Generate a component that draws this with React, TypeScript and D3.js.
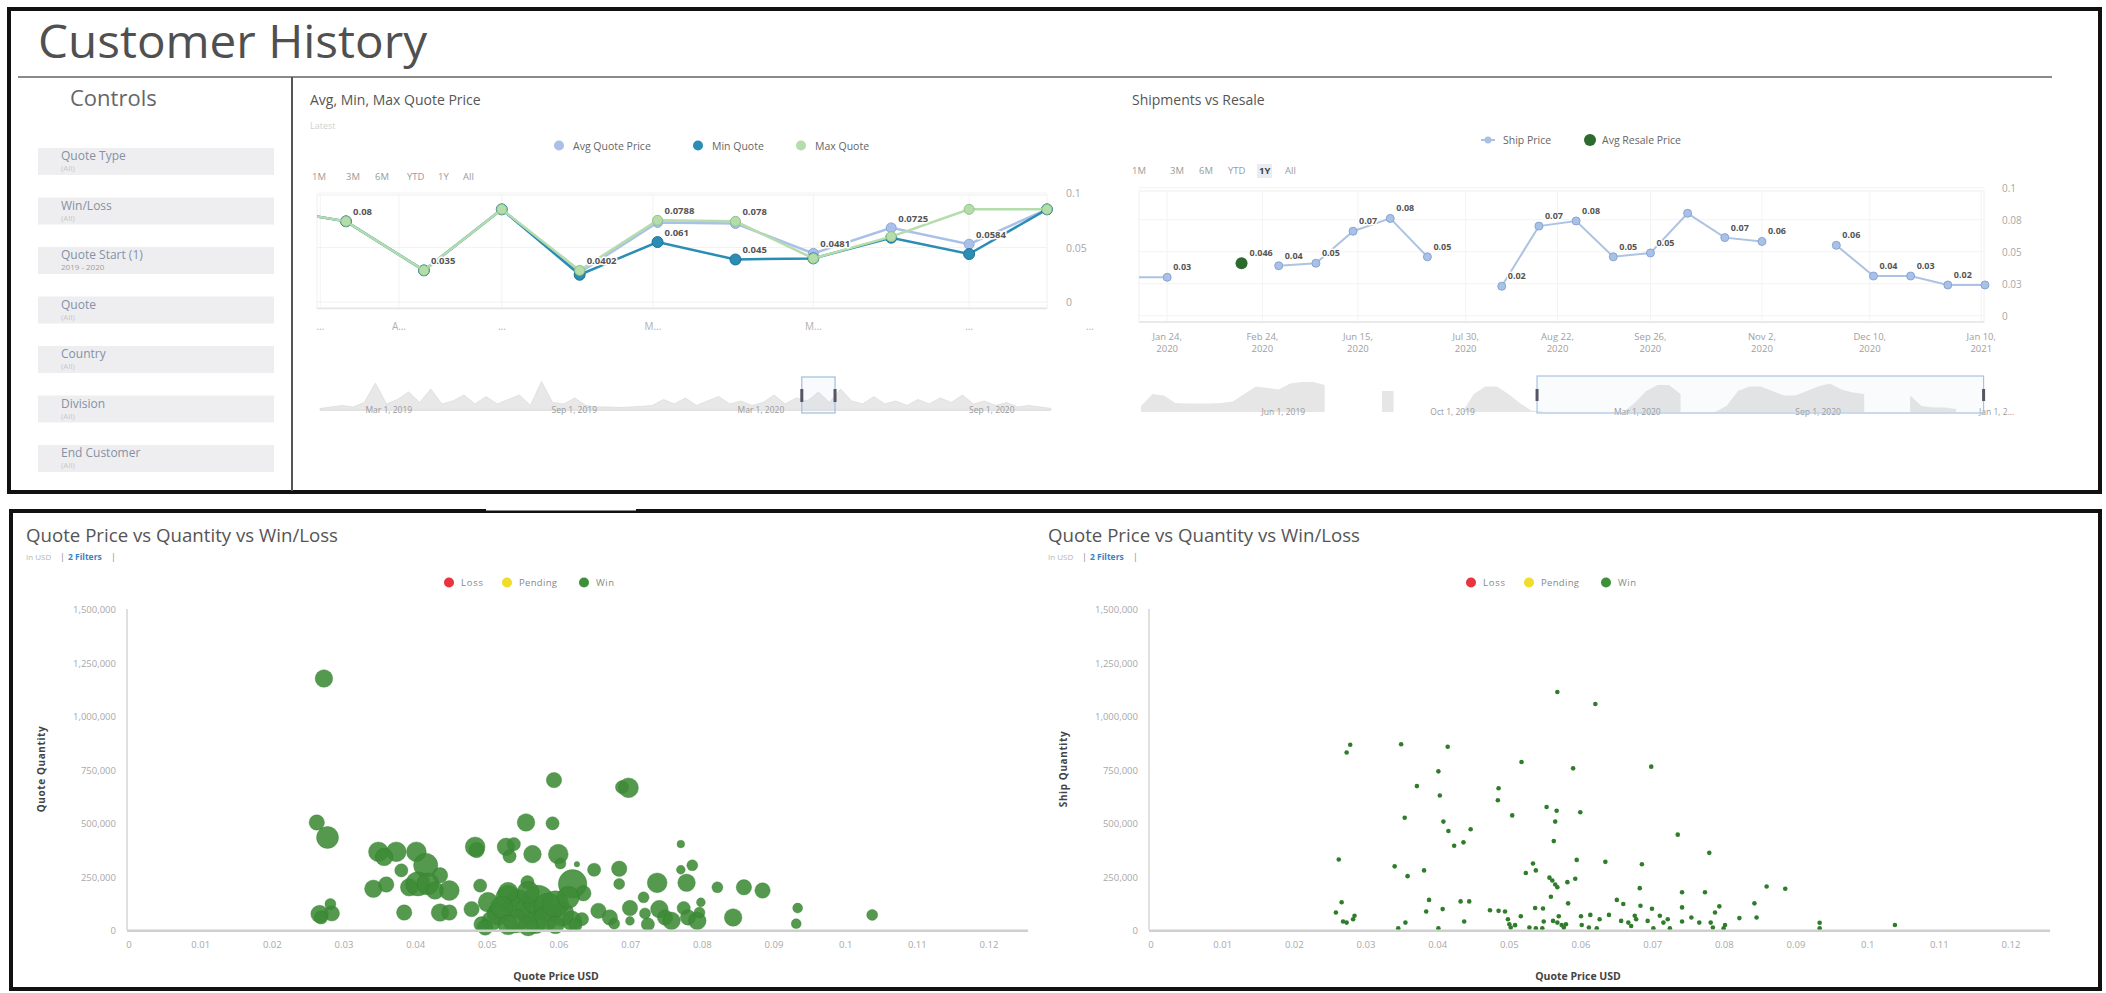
import React, { useEffect } from 'react';
import * as d3 from 'd3';

const W = 2106;
const H = 993;
const FONT = '"Open Sans", "DejaVu Sans", sans-serif';

// ---- controls panel
const controlLabels = ['Quote Type', 'Win/Loss', 'Quote Start (1)', 'Quote', 'Country', 'Division', 'End Customer'];
const controlValues = ['(All)', '(All)', '2019 - 2020', '(All)', '(All)', '(All)', '(All)'];

// ---- Avg, Min, Max Quote Price (slot -1 is the clipped point left of the view)
const quoteSlots = [-1, 0, 1, 2, 3, 4, 5, 6, 7, 8, 9];
const avgQuote = [0.086, 0.074, 0.029, 0.085, 0.027, 0.073, 0.072, 0.0446, 0.068, 0.053, 0.085];
const minQuote = [0.086, 0.074, 0.029, 0.085, 0.025, 0.055, 0.039, 0.04, 0.059, 0.044, 0.085];
const maxQuote = [0.086, 0.074, 0.029, 0.085, 0.029, 0.075, 0.074, 0.04, 0.06, 0.085, 0.085];
const avgLabels = ['', '', '', '', '', '', '', '0.0481', '0.0725', '0.0584', ''];
const minLabels = ['', '', '', '', '', '0.061', '0.045', '', '', '', ''];
const maxLabels = ['', '0.08', '0.035', '', '0.0402', '0.0788', '0.078', '', '', '', ''];
const quoteTickSlots = [-0.33, 0.68, 2, 3.94, 6, 8, 9.55];
const quoteTickLabels = ['…', 'A…', '…', 'M…', 'M…', '…', '…'];
const quoteYTicks = [0, 0.05, 0.1];
const quoteYLabels = ['0', '0.05', '0.1'];
const quoteLegend = ['Avg Quote Price', 'Min Quote', 'Max Quote'];
const quoteNav = [
  0.05, 0.1, 0.15, 0.1, 0.25, 0.9, 0.2, 0.35, 0.6, 0.25,
  0.7, 0.2, 0.3, 0.5, 0.2, 0.45, 0.2, 0.35, 0.5, 0.15,
  0.95, 0.25, 0.2, 0.4, 0.15, 0.1, 0.1, 0.08, 0.1, 0.12,
  0.15, 0.35, 0.2, 0.4, 0.15, 0.3, 0.45, 0.2, 0.3, 0.15,
  0.25, 0.5, 0.2, 0.4, 0.3, 0.6, 0.25, 0.7, 0.3, 0.2,
  0.45, 0.2, 0.3, 0.15, 0.35, 0.2, 0.4, 0.25, 0.5, 0.2,
  0.3, 0.15, 0.25, 0.1, 0.15, 0.1, 0.05
];
const quoteNavLabels = ['Mar 1, 2019', 'Sep 1, 2019', 'Mar 1, 2020', 'Sep 1, 2020'];
const quoteNavLabelIdx = [4.1, 20.9, 37.7, 58.6];
const quoteNavSel = [43.5, 46.5];

// ---- Shipments vs Resale (slot -1 clipped)
const shipSlots = [-1, 0, 1, 2, 3, 4, 5, 6, 7, 8, 9, 10, 11, 12, 13, 14, 15, 16, 17, 18, 19, 20, 21, 22];
const shipPrice: (number | null)[] = [0.03, 0.03, null, null, 0.039, 0.041, 0.066, 0.076, 0.046, null, 0.023, 0.07, 0.074, 0.046, 0.049, 0.08, 0.061, 0.058, null, 0.055, 0.031, 0.031, 0.024, 0.024];
const shipLabels = ['', '0.03', '', '', '0.04', '0.05', '0.07', '0.08', '0.05', '', '0.02', '0.07', '0.08', '0.05', '0.05', '', '0.07', '0.06', '', '0.06', '0.04', '0.03', '0.02', ''];
const resaleSlot = [2];
const resalePrice = [0.041];
const resaleLabels = ['0.046'];
const shipTickSlots = [0, 2.56, 5.13, 8.03, 10.5, 13, 16, 18.9, 21.9];
const shipTickDates = ['Jan 24,', 'Feb 24,', 'Jun 15,', 'Jul 30,', 'Aug 22,', 'Sep 26,', 'Nov 2,', 'Dec 10,', 'Jan 10,'];
const shipTickYears = ['2020', '2020', '2020', '2020', '2020', '2020', '2020', '2020', '2021'];
const shipYTicks = [0, 0.025, 0.05, 0.075, 0.1];
const shipYLabels = ['0', '0.03', '0.05', '0.08', '0.1'];
const shipLegend = ['Ship Price', 'Avg Resale Price'];
const shipNav: (number | null)[] = [
  0.2, 0.6, 0.55, 0.3, 0.28, 0.28, 0.28, 0.3, 0.35, 0.6,
  0.85, 0.8, 0.75, 0.95, 1.0, 1.0, 0.9, null, null, null,
  null, 0.7, 0.7, null, null, null, null, null, 0, 0.6,
  0.85, 0.85, 0.6, 0.3, 0.05, 0.02, null, null, null, null,
  null, null, 0, 0.3, 0.7, 0.9, 0.9, 0.6, null, null,
  0, 0.2, 0.7, 0.85, 0.85, 0.7, 0.55, 0.55, 0.7, 0.85,
  0.95, 0.75, 0.65, 0.6, null, null, null, 0.55, 0.2, 0.15,
  0.15, 0.1
];
const shipNavLabels = ['Jun 1, 2019', 'Oct 1, 2019', 'Mar 1, 2020', 'Sep 1, 2020', 'Jan 1, 2…'];
const shipNavLabelIdx = [10.5, 25.2, 41.2, 57.0, 73.0];
const shipNavSel = [34.5, 73.4];

const rangeButtons = ['1M', '3M', '6M', 'YTD', '1Y', 'All'];

// ---- scatter charts
const winLegend = ['Loss', 'Pending', 'Win'];
const winColors = ['#e8343f', '#f2dc2a', '#3f8f3a'];
const priceTicks = [0, 0.01, 0.02, 0.03, 0.04, 0.05, 0.06, 0.07, 0.08, 0.09, 0.1, 0.11, 0.12];
const qtyTicks = [0, 250000, 500000, 750000, 1000000, 1250000, 1500000];

// [quote price, quote quantity, bubble size]
const quoteBubbles: [number, number, number][] = [
  [0.0272, 1177000, 256], [0.0262, 504000, 196], [0.0277, 434000, 400], [0.0593, 702000, 196],
  [0.0688, 669000, 144], [0.0697, 666000, 324], [0.0554, 504000, 256], [0.0591, 500000, 144],
  [0.0348, 367000, 324], [0.0373, 367000, 324], [0.0356, 343000, 256], [0.0401, 367000, 324],
  [0.0414, 304000, 484], [0.038, 280000, 144], [0.0434, 257000, 196], [0.0483, 390000, 324],
  [0.0485, 375000, 196], [0.0526, 390000, 256], [0.0537, 403000, 144], [0.0531, 346000, 144],
  [0.0563, 356000, 256], [0.0599, 356000, 324], [0.0602, 312000, 100], [0.0625, 309000, 25],
  [0.0649, 283000, 144], [0.0684, 288000, 196], [0.0684, 217000, 100], [0.077, 403000, 49],
  [0.0786, 304000, 100], [0.077, 283000, 64], [0.0737, 222000, 324], [0.0778, 222000, 256],
  [0.0821, 201000, 100], [0.0858, 201000, 196], [0.0884, 186000, 196], [0.0933, 104000, 81],
  [0.0931, 31000, 81], [0.1037, 72000, 100], [0.0341, 194000, 256], [0.0359, 214000, 196],
  [0.0391, 201000, 256], [0.0403, 217000, 484], [0.0417, 217000, 400], [0.0427, 186000, 256],
  [0.0447, 186000, 324], [0.0384, 83000, 196], [0.0434, 83000, 256], [0.0447, 83000, 196],
  [0.0478, 99000, 196], [0.0266, 76000, 256], [0.0283, 79000, 196], [0.0281, 123000, 100],
  [0.0268, 60000, 144], [0.049, 209000, 144], [0.0556, 225000, 144], [0.0619, 217000, 676],
  [0.0634, 173000, 196],
  [0.0501, 131000, 324], [0.0515, 76000, 400], [0.0529, 154000, 484], [0.0543, 123000, 676],
  [0.0557, 91000, 576], [0.0571, 139000, 784], [0.0585, 107000, 676], [0.0604, 76000, 484],
  [0.0618, 44000, 324], [0.0539, 44000, 484], [0.0506, 44000, 324], [0.0567, 36000, 400],
  [0.0581, 52000, 484], [0.0595, 123000, 576], [0.0613, 154000, 400], [0.0492, 28000, 196],
  [0.0529, 178000, 324], [0.0557, 178000, 400], [0.052, 107000, 400], [0.0632, 52000, 144],
  [0.0497, 13000, 196], [0.0557, 20000, 324], [0.0595, 25000, 256], [0.0623, 25000, 144],
  [0.0529, 25000, 324],
  [0.0655, 91000, 196], [0.0671, 60000, 196], [0.0677, 31000, 100], [0.0699, 104000, 196],
  [0.0699, 44000, 64], [0.0718, 154000, 100], [0.0724, 28000, 144], [0.074, 99000, 256],
  [0.0748, 60000, 196], [0.0757, 44000, 256], [0.0774, 104000, 144], [0.078, 60000, 196],
  [0.0793, 44000, 256], [0.0798, 131000, 64], [0.0796, 83000, 100], [0.0843, 60000, 256],
  [0.072, 79000, 100]
];

// [quote price, ship quantity]
const shipPoints: [number, number][] = [
  [0.0278, 867000], [0.0273, 831000], [0.0349, 870000], [0.0414, 858000], [0.0567, 1114000],
  [0.062, 1058000], [0.0517, 787000], [0.0589, 757000], [0.0698, 765000], [0.0401, 743000],
  [0.0371, 674000], [0.0485, 664000], [0.0403, 630000], [0.0484, 608000], [0.0504, 537000],
  [0.0354, 526000], [0.0552, 576000], [0.0566, 559000], [0.0599, 552000], [0.0564, 508000],
  [0.0408, 508000], [0.0415, 464000], [0.0446, 472000], [0.0735, 447000], [0.0436, 411000],
  [0.0423, 395000], [0.0562, 417000], [0.0779, 362000], [0.0262, 331000], [0.034, 299000],
  [0.0381, 280000], [0.0358, 253000], [0.0594, 329000], [0.0634, 320000], [0.0685, 309000],
  [0.0533, 312000], [0.0537, 280000], [0.0523, 268000], [0.0556, 246000], [0.056, 233000],
  [0.0564, 214000], [0.0567, 201000], [0.0581, 225000], [0.0592, 241000], [0.0682, 197000],
  [0.0741, 178000], [0.0773, 178000], [0.0859, 205000], [0.0885, 194000], [0.0388, 142000],
  [0.0432, 135000], [0.0444, 135000], [0.0558, 157000], [0.0582, 126000], [0.065, 142000],
  [0.0659, 123000], [0.0266, 131000], [0.0384, 88000], [0.0407, 99000], [0.0473, 94000],
  [0.0485, 91000], [0.0494, 88000], [0.0536, 104000], [0.0547, 102000], [0.0683, 115000],
  [0.0699, 101000], [0.0741, 107000], [0.0793, 112000], [0.0787, 83000], [0.0842, 126000],
  [0.0845, 60000], [0.0821, 57000], [0.0258, 83000], [0.0268, 41000], [0.0273, 36000],
  [0.0282, 52000], [0.0284, 68000], [0.0355, 36000], [0.0345, 9000], [0.0401, 9000],
  [0.0437, 41000], [0.0498, 52000], [0.05, 28000], [0.0502, 13000], [0.0516, 66000],
  [0.0528, 13000], [0.0537, 9000], [0.0548, 41000], [0.0546, 9000], [0.0567, 36000],
  [0.0573, 25000], [0.0576, 13000], [0.0579, 28000], [0.06, 66000], [0.0601, 25000],
  [0.0611, 13000], [0.0622, 9000], [0.0626, 52000], [0.0639, 72000], [0.0656, 44000],
  [0.067, 20000], [0.0675, 68000], [0.0693, 44000], [0.0701, 9000], [0.071, 68000],
  [0.0715, 36000], [0.0721, 52000], [0.0724, 9000], [0.0741, 41000], [0.0754, 60000],
  [0.0765, 36000], [0.0781, 36000], [0.0784, 13000], [0.0801, 25000], [0.0799, 9000],
  [0.0933, 35000], [0.0933, 9000], [0.1038, 25000], [0.0677, 52000], [0.0666, 36000],
  [0.0569, 66000], [0.0561, 44000], [0.0508, 24000], [0.0613, 72000]
];

const halo = { paintOrder: 'stroke' as const, stroke: '#fff', strokeWidth: 3, strokeLinejoin: 'round' as const };

function Controls() {
  return (
    <g>
      <text x={70} y={106} fontSize={22} fill="#666" fontFamily={FONT}>Controls</text>
      {controlLabels.map((lab, i) => {
        const top = 148 + i * 49.5;
        return (
          <g key={lab}>
            <rect x={38} y={top} width={236} height={27} fill="#eeeef0" />
            <text x={61} y={top + 12} fontSize={12} fill="#8491a6" fontFamily={FONT}>{lab}</text>
            <text x={61} y={top + 23} fontSize={8} fill={i === 2 ? '#a0a0a0' : '#c8c8c8'} fontFamily={FONT}>{controlValues[i]}</text>
          </g>
        );
      })}
    </g>
  );
}

function RangeButtons({ x, y, gaps, selected }: { x: number; y: number; gaps: number[]; selected: number }) {
  let cx = x;
  return (
    <g fontFamily={FONT} fontSize={9.5} fill="#9a9a9a">
      {rangeButtons.map((b, i) => {
        const px = cx;
        cx += gaps[i];
        return (
          <g key={b}>
            {i === selected && <rect x={px - 2} y={y - 10} width={15} height={14} fill="#e8ecf4" />}
            <text x={px} y={y} fontWeight={i === selected ? 700 : 400} fill={i === selected ? '#444' : '#9a9a9a'}>{b}</text>
          </g>
        );
      })}
    </g>
  );
}

function QuoteChart() {
  const x = d3.scaleLinear().domain([0, 9]).range([346, 1047]);
  const y = d3.scaleLinear().domain([0, 0.1]).range([302, 193]);
  const line = d3.line<number>().x((_, i) => x(quoteSlots[i])).y(d => y(d));
  const series = [
    { vals: avgQuote, labels: avgLabels, color: '#aac0e8', stroke: '#8fa9d8' },
    { vals: minQuote, labels: minLabels, color: '#2b8db3', stroke: '#1d7498' },
    { vals: maxQuote, labels: maxLabels, color: '#b5dcab', stroke: '#8fc584' }
  ];
  const legendX = [559, 698, 801];
  const navX = d3.scaleLinear().domain([0, quoteNav.length - 1]).range([320, 1051]);
  const navY = d3.scaleLinear().domain([0, 1]).range([410, 380]);
  const navArea = d3.area<number>().x((_, i) => navX(i)).y0(410).y1(d => navY(d));
  return (
    <g fontFamily={FONT}>
      <text x={310} y={105} fontSize={14} fill="#555">Avg, Min, Max Quote Price</text>
      <text x={310} y={129} fontSize={9} fill="#d0d0d0">Latest</text>
      {quoteLegend.map((l, i) => (
        <g key={l}>
          <circle cx={legendX[i]} cy={145.5} r={5} fill={series[i].color} />
          <text x={legendX[i] + 14} y={149.5} fontSize={10.5} fill="#666">{l}</text>
        </g>
      ))}
      <RangeButtons x={312} y={180} gaps={[34, 29, 32, 31, 25, 20]} selected={-1} />
      <defs>
        <clipPath id="clipQuote"><rect x={317} y={185} width={736} height={130} /></clipPath>
      </defs>
      <rect x={317} y={195} width={730} height={113} fill="none" stroke="#f0f0f0" />
      {quoteYTicks.map(t => (
        <line key={t} x1={317} x2={1047} y1={y(t)} y2={y(t)} stroke="#f2f2f2" />
      ))}
      {quoteTickSlots.map((s, i) => (
        x(s) > 317 && x(s) < 1047 ? <line key={i} x1={x(s)} x2={x(s)} y1={195} y2={308} stroke="#f2f2f2" /> : null
      ))}
      <line x1={317} x2={1047} y1={308.5} y2={308.5} stroke="#e4e4e4" strokeWidth={1.5} />
      {quoteYTicks.map((t, i) => (
        <text key={t} x={1066} y={y(t) + 4} fontSize={10.5} fill="#a8a8a8">{quoteYLabels[i]}</text>
      ))}
      {quoteTickSlots.map((s, i) => (
        <text key={i} x={x(s)} y={330} fontSize={10} fill="#b0b0b0" textAnchor="middle">{quoteTickLabels[i]}</text>
      ))}
      <g clipPath="url(#clipQuote)">
        {series.map((s, k) => (
          <g key={k}>
            <path d={line(s.vals) || ''} fill="none" stroke={s.color} strokeWidth={2.5} />
            {s.vals.map((v, i) => (
              <circle key={i} cx={x(quoteSlots[i])} cy={y(v)} r={k === 1 ? 5.5 : 5} fill={s.color} stroke={s.stroke} strokeWidth={1} />
            ))}
          </g>
        ))}
      </g>
      {series.map((s, k) => s.labels.map((lab, i) => lab ? (
        <text key={`${k}-${i}`} x={x(quoteSlots[i]) + 7} y={y(s.vals[i]) - 6} fontSize={9.5} fontWeight={700} fill="#555" style={halo}>{lab}</text>
      ) : null))}
      {/* navigator */}
      <path d={navArea(quoteNav) || ''} fill="#e8e8e8" stroke="#dcdcdc" strokeWidth={0.8} />
      <line x1={320} x2={1051} y1={410.5} y2={410.5} stroke="#e2e2e2" />
      {quoteNavLabels.map((l, i) => (
        <text key={l} x={navX(quoteNavLabelIdx[i])} y={413} fontSize={8.5} fill="#9a9a9a">{l}</text>
      ))}
      <rect x={navX(quoteNavSel[0])} y={377} width={navX(quoteNavSel[1]) - navX(quoteNavSel[0])} height={36} fill="rgba(160,190,225,0.08)" stroke="#9cc0e0" strokeWidth={1.2} />
      {quoteNavSel.map((s, i) => (
        <rect key={i} x={navX(s) - 1.5} y={389} width={3} height={13} fill="#556" />
      ))}
    </g>
  );
}

function ShipChart() {
  const x = d3.scaleLinear().domain([0, 22]).range([1167.2, 1985]);
  const y = d3.scaleLinear().domain([0, 0.1]).range([315.7, 187.7]);
  const line = d3.line<number | null>().defined(d => d != null).x((_, i) => x(shipSlots[i])).y(d => y(d as number));
  const navX = d3.scaleLinear().domain([0, 73]).range([1141, 1979]);
  const navY = d3.scaleLinear().domain([0, 1]).range([412, 382]);
  const navArea = d3.area<number | null>().defined(d => d != null).x((_, i) => navX(i)).y0(412).y1(d => navY(d as number));
  const legendX = [1488, 1590];
  return (
    <g fontFamily={FONT}>
      <text x={1132} y={105} fontSize={14} fill="#555">Shipments vs Resale</text>
      <g>
        <line x1={1481} x2={1495} y1={140} y2={140} stroke="#adc3e3" strokeWidth={2} />
        <circle cx={legendX[0]} cy={140} r={3.5} fill="#aac0e6" />
        <text x={1503} y={144} fontSize={10.5} fill="#666">{shipLegend[0]}</text>
        <circle cx={legendX[1]} cy={140} r={6} fill="#2d6a2d" />
        <text x={1602} y={144} fontSize={10.5} fill="#666">{shipLegend[1]}</text>
      </g>
      <RangeButtons x={1132} y={174} gaps={[38, 29, 29, 31, 26, 20]} selected={4} />
      <defs>
        <clipPath id="clipShip"><rect x={1139} y={180} width={852} height={145} /></clipPath>
      </defs>
      <rect x={1139} y={191} width={845} height={131} fill="none" stroke="#f0f0f0" />
      {shipYTicks.map(t => (
        <line key={t} x1={1139} x2={1984} y1={y(t)} y2={y(t)} stroke="#f3f3f3" />
      ))}
      {shipTickSlots.map((s, i) => (
        <line key={i} x1={x(s)} x2={x(s)} y1={191} y2={322} stroke="#f3f3f3" />
      ))}
      <line x1={1139} x2={1984} y1={322} y2={322} stroke="#e6e6e6" strokeWidth={1.5} />
      {shipYTicks.map((t, i) => (
        <text key={t} x={2002} y={y(t) + 4} fontSize={10} fill="#a8a8a8">{shipYLabels[i]}</text>
      ))}
      {shipTickSlots.map((s, i) => (
        <g key={i}>
          <text x={x(s)} y={340} fontSize={9.5} fill="#a0a0a0" textAnchor="middle">{shipTickDates[i]}</text>
          <text x={x(s)} y={352} fontSize={9.5} fill="#a0a0a0" textAnchor="middle">{shipTickYears[i]}</text>
        </g>
      ))}
      <g clipPath="url(#clipShip)">
        <path d={line(shipPrice) || ''} fill="none" stroke="#adc3e3" strokeWidth={2} />
        {shipPrice.map((v, i) => v == null ? null : (
          <circle key={i} cx={x(shipSlots[i])} cy={y(v)} r={4} fill="#a9c1e6" stroke="#86a5d3" strokeWidth={1} />
        ))}
        {resalePrice.map((v, i) => (
          <circle key={i} cx={x(resaleSlot[i])} cy={y(v)} r={6} fill="#2d6a2d" />
        ))}
      </g>
      {shipLabels.map((lab, i) => lab && shipPrice[i] != null ? (
        <text key={i} x={x(shipSlots[i]) + 6} y={y(shipPrice[i] as number) - 7} fontSize={9} fontWeight={700} fill="#555" style={halo}>{lab}</text>
      ) : null)}
      {resaleLabels.map((lab, i) => (
        <text key={i} x={x(resaleSlot[i]) + 8} y={y(resalePrice[i]) - 7} fontSize={9} fontWeight={700} fill="#555" style={halo}>{lab}</text>
      ))}
      {/* navigator */}
      <path d={navArea(shipNav) || ''} fill="#e6e6e6" />
      {shipNavLabels.map((l, i) => (
        <text key={l} x={navX(shipNavLabelIdx[i])} y={415} fontSize={8.5} fill="#9a9a9a">{l}</text>
      ))}
      <rect x={navX(shipNavSel[0])} y={376} width={navX(shipNavSel[1]) - navX(shipNavSel[0])} height={37} fill="rgba(160,190,225,0.06)" stroke="#a5c3e2" strokeWidth={1.2} />
      {shipNavSel.map((s, i) => (
        <rect key={i} x={navX(s) - 1.5} y={389} width={3} height={12} fill="#556" />
      ))}
    </g>
  );
}

function Scatter({ left, title, yTitle, bubbles, points }: {
  left: number; title: string; yTitle: string;
  bubbles?: [number, number, number][]; points?: [number, number][];
}) {
  const axisX = left + 116;
  const x = d3.scaleLinear().domain([0, 0.12]).range([axisX + 2, axisX + 862]);
  const y = d3.scaleLinear().domain([0, 1500000]).range([930.3, 609.4]);
  const r = d3.scaleSqrt().domain([0, 784]).range([0, 15.4]);
  const fmt = d3.format(',');
  const legendX = [left + 438, left + 496, left + 573];
  const legendW = [22, 38, 18];
  return (
    <g fontFamily={FONT}>
      <text x={left + 15} y={542} fontSize={18} fill="#555" textLength={312} lengthAdjust="spacingAndGlyphs">{title}</text>
      <text x={left + 15} y={560} fontSize={8} fill="#b5b5b5">In USD</text>
      <text x={left + 49} y={560} fontSize={9} fill="#888">|</text>
      <text x={left + 57} y={560} fontSize={8.5} fontWeight={700} fill="#3b7fc4">2 Filters</text>
      <text x={left + 100} y={560} fontSize={9} fill="#888">|</text>
      {winLegend.map((l, i) => (
        <g key={l}>
          <circle cx={legendX[i]} cy={582.5} r={5} fill={winColors[i]} />
          <text x={legendX[i] + 12} y={586} fontSize={9.5} fill="#888" textLength={legendW[i]}>{l}</text>
        </g>
      ))}
      {qtyTicks.map(t => (
        <text key={t} x={axisX - 11} y={y(t) + 4} fontSize={9.5} fill="#a8a8a8" textAnchor="end">{fmt(t)}</text>
      ))}
      {priceTicks.map(t => (
        <text key={t} x={x(t)} y={948} fontSize={9.5} fill="#a8a8a8" textAnchor="middle">{String(+t.toFixed(2))}</text>
      ))}
      <line x1={axisX} x2={axisX} y1={609} y2={930} stroke="#d6d6d6" strokeWidth={1.5} />
      <text x={(axisX + axisX + 862) / 2 - 2} y={980} fontSize={10.5} fontWeight={700} fill="#444" textAnchor="middle">Quote Price USD</text>
      <text transform={`translate(${left + 34},769) rotate(-90)`} fontSize={10} fontWeight={700} fill="#444" textAnchor="middle" letterSpacing={0.6}>{yTitle}</text>
      {bubbles && bubbles.map((b, i) => (
        <circle key={i} cx={x(b[0])} cy={y(b[1])} r={r(b[2])} fill="#3d8b37" fillOpacity={0.88} stroke="#2f7a2a" strokeOpacity={0.35} strokeWidth={1} />
      ))}
      {points && points.map((p, i) => (
        <circle key={i} cx={x(p[0])} cy={y(p[1])} r={2.3} fill="#2f7d2a" />
      ))}
      <line x1={axisX} x2={axisX + 901} y1={930.8} y2={930.8} stroke="#cfcfcf" strokeWidth={2.5} />
    </g>
  );
}

export default function App() {
  useEffect(() => {
    document.body.style.margin = '0';
    document.body.style.overflow = 'hidden';
  }, []);
  return (
    <svg width={W} height={H} style={{ position: 'absolute', left: 0, top: 0, background: '#fff' }}>
      <rect x={0} y={0} width={W} height={H} fill="#fff" />
      {/* top panel */}
      <rect x={9} y={9} width={2091} height={483} fill="#fff" stroke="#111" strokeWidth={4} />
      <text x={38} y={58} fontSize={45} fill="#505050" fontFamily={FONT} textLength={389} lengthAdjust="spacingAndGlyphs">Customer History</text>
      <line x1={18} x2={2052} y1={77} y2={77} stroke="#8a8a8a" strokeWidth={2} />
      <line x1={292} x2={292} y1={77} y2={491} stroke="#555" strokeWidth={2} />
      <Controls />
      <QuoteChart />
      <ShipChart />
      {/* bottom panel */}
      <rect x={11} y={511} width={2089} height={478} fill="#fff" stroke="#111" strokeWidth={4} />
      <rect x={486} y={508} width={150} height={2.5} fill="#fff" />
      <Scatter left={11} title="Quote Price vs Quantity vs Win/Loss" yTitle="Quote Quantity" bubbles={quoteBubbles} />
      <Scatter left={1033} title="Quote Price vs Quantity vs Win/Loss" yTitle="Ship Quantity" points={shipPoints} />
    </svg>
  );
}
